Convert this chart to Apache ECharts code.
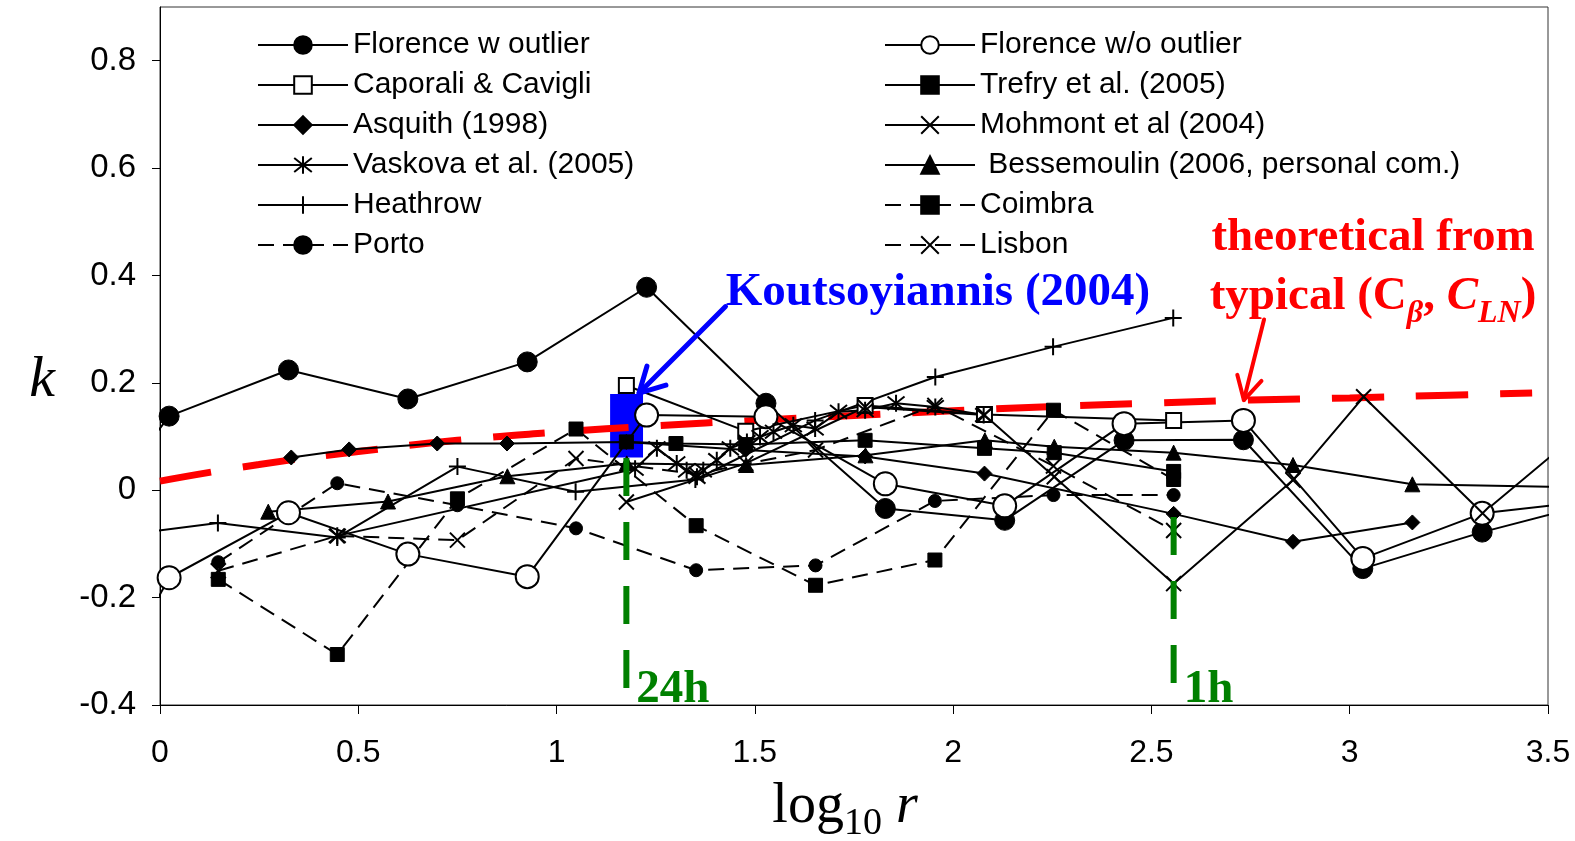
<!DOCTYPE html>
<html>
<head>
<meta charset="utf-8">
<script src="https://cdn.jsdelivr.net/npm/echarts@6/dist/echarts.min.js"></script>
<style>
html, body { margin: 0; padding: 0; background: #fff; }
#chart { width: 1575px; height: 841px; }
</style>
</head>
<body>
<div id="chart"></div>
<script>
// k versus log10 r for the stations / studies

const florenceX = [-0.278, 0.023, 0.324, 0.625, 0.926, 1.227, 1.528, 1.829, 2.13, 2.431, 2.732, 3.033, 3.334, 3.635];
const florenceWith = [-0.16, 0.138, 0.224, 0.170, 0.239, 0.378, 0.162, -0.034, -0.056, 0.093, 0.094, -0.146, -0.078, -0.02];
const florenceWithout = [-0.57, -0.163, -0.042, -0.119, -0.161, 0.140, 0.137, 0.012, -0.029, 0.124, 0.130, -0.127, -0.043, -0.018];

const caporaliX = [1.176, 1.477, 1.778, 2.079, 2.556];
const caporaliK = [0.195, 0.11, 0.158, 0.141, 0.13];

const trefryX = [1.176, 1.301, 1.477, 1.778, 2.079, 2.255, 2.556];
const trefryK = [0.09, 0.087, 0.085, 0.093, 0.078, 0.07, 0.035];

const asquithX = [0.331, 0.477, 0.699, 0.875, 1.176, 1.477, 1.778, 2.079, 2.556, 2.857, 3.158];
const asquithK = [0.061, 0.076, 0.087, 0.087, 0.09, 0.075, 0.063, 0.031, -0.044, -0.096, -0.06];

const mohmontX = [1.176, 1.477, 1.778, 2.079, 2.255, 2.556, 2.857, 3.035, 3.335, 3.636];
const mohmontK = [-0.022, 0.05, 0.155, 0.14, 0.025, -0.174, 0.019, 0.174, -0.043, 0.143];

const vaskovaX = [0.447, 1.198, 1.253, 1.303, 1.328, 1.354, 1.370, 1.404, 1.438, 1.480, 1.513, 1.547, 1.597, 1.652, 1.711, 1.778, 1.856, 1.955, 2.077];
const vaskovaK = [-0.085, 0.040, 0.078, 0.050, 0.037, 0.025, 0.037, 0.056, 0.078, 0.090, 0.099, 0.109, 0.121, 0.115, 0.146, 0.149, 0.162, 0.155, 0.140];

const bessemoulinX = [0.273, 0.575, 0.876, 1.177, 1.478, 1.779, 2.08, 2.255, 2.556, 2.857, 3.158, 3.6];
const bessemoulinK = [-0.04, -0.021, 0.026, 0.05, 0.047, 0.065, 0.093, 0.081, 0.07, 0.047, 0.011, 0.005];

const heathrowX = [-0.155, 0.146, 0.447, 0.75, 1.048, 1.35, 1.652, 1.955, 2.252, 2.555];
const heathrowK = [-0.089, -0.061, -0.088, 0.044, -0.003, 0.02, 0.13, 0.211, 0.267, 0.321];

const portugalX = [0.147, 0.447, 0.75, 1.049, 1.352, 1.653, 1.954, 2.253, 2.556];
const coimbraK = [-0.166, -0.306, -0.016, 0.114, -0.066, -0.177, -0.13, 0.149, 0.02];
const portoK = [-0.134, 0.013, -0.028, -0.071, -0.149, -0.14, -0.02, -0.009, -0.009];
const lisbonK = [-0.15, -0.085, -0.093, 0.059, 0.03, 0.075, 0.158, 0.045, -0.075];

// theoretical curve from typical (C_beta, C_LN)
const theoryX = [0, 0.25, 0.5, 0.75, 1, 1.25, 1.5, 1.75, 2, 2.25, 2.5, 2.75, 3, 3.25, 3.46];
const theoryK = [0.017, 0.048, 0.072, 0.093, 0.108, 0.12, 0.13, 0.139, 0.148, 0.156, 0.162, 0.168, 0.172, 0.177, 0.181];

// Koutsoyiannis (2004) range at 24 h
const koutsX = [1.135, 1.218];
const koutsK = [0.061, 0.179];

// 24h and 1h markers
const hourX = [1.176, 2.556];
const hourTopK = [0.06, -0.05];
const hourLabels = ['24h', '1h'];

const xTicks = [0, 3.5, 0.5];
const yTicks = [-0.4, 0.9, 0.2];
const yTickValues = [-0.4, -0.2, 0, 0.2, 0.4, 0.6, 0.8];

const leftNames = ['Florence w outlier', 'Caporali & Cavigli', 'Asquith (1998)', 'Vaskova et al. (2005)', 'Heathrow', 'Porto'];
const rightNames = ['Florence w/o outlier', 'Trefry et al. (2005)', 'Mohmont et al (2004)', ' Bessemoulin (2006, personal com.)', 'Coimbra', 'Lisbon'];

const SYM_X = 'path://M0,0L10,10M10,0L0,10';
const SYM_PLUS = 'path://M5,0L5,10M0,5L10,5';
const SYM_STAR = 'path://M5,0L5,10M1,1L9,9M9,1L1,9';

function pts(xs, ys) {
    return xs.map((x, i) => [x, ys[i]]);
}

function blackSeries(name, xs, ys, symbol, size, dashed, bw) {
    return {
        name: name,
        type: 'line',
        data: pts(xs, ys),
        symbol: symbol,
        symbolSize: size,
        showAllSymbol: true,
        clip: true,
        lineStyle: { color: '#000', width: 2, type: dashed ? [16, 9] : 'solid' },
        itemStyle: { color: '#000', borderColor: '#000', borderWidth: bw === undefined ? 1 : bw },
        emphasis: { disabled: true },
        z: 2
    };
}

const chart = echarts.init(document.getElementById('chart'));

const series = [
    {
        name: 'theory',
        type: 'line',
        data: pts(theoryX, theoryK),
        smooth: true,
        symbol: 'none',
        lineStyle: { color: '#ff0000', width: 7, type: [52, 32] },
        z: 1
    },
    blackSeries('Florence w outlier', florenceX, florenceWith, 'circle', 20, false, 1),
    blackSeries('Florence w/o outlier', florenceX, florenceWithout, 'emptyCircle', 23, false, 2),
    blackSeries('Caporali & Cavigli', caporaliX, caporaliK, 'emptyRect', 15, false, 2),
    blackSeries('Trefry et al. (2005)', trefryX, trefryK, 'rect', 14, false, 1),
    blackSeries('Asquith (1998)', asquithX, asquithK, 'diamond', 15, false, 1),
    blackSeries('Mohmont et al (2004)', mohmontX, mohmontK, SYM_X, 15, false, 2),
    blackSeries('Vaskova et al. (2005)', vaskovaX, vaskovaK, SYM_STAR, 17, false, 2),
    blackSeries(' Bessemoulin (2006, personal com.)', bessemoulinX, bessemoulinK, 'triangle', 15, false, 1),
    blackSeries('Heathrow', heathrowX, heathrowK, SYM_PLUS, 17, false, 2),
    blackSeries('Coimbra', portugalX, coimbraK, 'rect', 14, true, 1),
    blackSeries('Porto', portugalX, portoK, 'circle', 13, true, 1),
    blackSeries('Lisbon', portugalX, lisbonK, SYM_X, 15, true, 2)
];

hourX.forEach((x, i) => {
    series.push({
        name: 'hour' + i,
        type: 'line',
        data: [[x, hourTopK[i]], [x, yTicks[0]]],
        symbol: 'none',
        lineStyle: { color: '#008000', width: 6, type: [38, 26] },
        z: 3
    });
});

series.push({
    name: 'kouts',
    type: 'line',
    data: [],
    symbol: 'none',
    markArea: {
        silent: true,
        itemStyle: { color: '#0000ff', opacity: 1 },
        data: [[{ coord: [koutsX[0], koutsK[1]] }, { coord: [koutsX[1], koutsK[0]] }]]
    },
    z: 5
});

const legendBase = {
    orient: 'vertical',
    top: 25,
    itemWidth: 90,
    itemHeight: 22,
    itemGap: 10,
    selectedMode: false,
    textStyle: { fontSize: 30, lineHeight: 30, fontFamily: 'Liberation Sans', color: '#000' }
};

chart.setOption({
    animation: false,
    backgroundColor: '#fff',
    grid: { left: 160, right: 27, top: 7, bottom: 136, show: true, borderColor: '#333', borderWidth: 1 },
    legend: [
        Object.assign({ data: leftNames, left: 252 }, legendBase),
        Object.assign({ data: rightNames, left: 879 }, legendBase)
    ],
    xAxis: {
        type: 'value',
        min: xTicks[0],
        max: xTicks[1],
        interval: xTicks[2],
        splitLine: { show: false },
        axisLine: { onZero: false, lineStyle: { color: '#000', width: 1 } },
        axisTick: { length: 9, lineStyle: { color: '#000' } },
        axisLabel: { color: '#000', fontSize: 32, fontFamily: 'Liberation Sans', margin: 32 }
    },
    yAxis: {
        type: 'value',
        min: yTicks[0],
        max: yTicks[1],
        interval: yTicks[2],
        splitLine: { show: false },
        axisLine: { show: true, onZero: false, lineStyle: { color: '#000', width: 1 } },
        axisTick: { show: true, length: 8, customValues: yTickValues, lineStyle: { color: '#000' } },
        axisLabel: {
            color: '#000', fontSize: 33, fontFamily: 'Liberation Sans', margin: 24,
            customValues: yTickValues,
            formatter: v => (v > 0.85 ? '' : String(+v.toFixed(1)))
        }
    },
    series: series
});

// ---- annotations (text + arrows) ----
const mctx = document.createElement('canvas').getContext('2d');

function textRun(x, y, parts, align) {
    const widths = parts.map(p => { mctx.font = p.font; return mctx.measureText(p.text).width; });
    const total = widths.reduce((a, b) => a + b, 0);
    let cx = align === 'center' ? x - total / 2 : (align === 'right' ? x - total : x);
    return parts.map((p, i) => {
        const el = {
            type: 'text',
            x: cx,
            y: y + (p.dy || 0),
            z: 10,
            style: {
                text: p.text, font: p.font, fill: p.fill, align: 'left', verticalAlign: 'bottom',
                textShadowColor: p.shadow || 'transparent', textShadowOffsetX: 2, textShadowOffsetY: 2
            }
        };
        cx += widths[i];
        return el;
    });
}

function arrow(from, to, color, width, headLen) {
    const p0 = chart.convertToPixel({ xAxisIndex: 0, yAxisIndex: 0 }, from);
    const p1 = chart.convertToPixel({ xAxisIndex: 0, yAxisIndex: 0 }, to);
    const ang = Math.atan2(p0[1] - p1[1], p0[0] - p1[0]);
    const a1 = ang + 0.5, a2 = ang - 0.5;
    const h1 = [p1[0] + headLen * Math.cos(a1), p1[1] + headLen * Math.sin(a1)];
    const h2 = [p1[0] + headLen * Math.cos(a2), p1[1] + headLen * Math.sin(a2)];
    const st = { stroke: color, lineWidth: width, fill: null, lineCap: 'round', lineJoin: 'round' };
    return [
        { type: 'polyline', z: 10, shape: { points: [p0, p1] }, style: st },
        { type: 'polyline', z: 10, shape: { points: [h1, p1, h2] }, style: st }
    ];
}

const SERIF = '"Liberation Serif", "Times New Roman", serif';
const shadow = '#b0b0b0';
const blueFont = 'bold 47px ' + SERIF;
const redFont = 'bold 47px ' + SERIF;
const redIt = 'italic bold 47px ' + SERIF;
const redSub = 'italic bold 32px ' + SERIF;

let graphics = [];
graphics = graphics.concat(textRun(938, 316, [{ text: 'Koutsoyiannis (2004)', font: blueFont, fill: '#0000ff', shadow: shadow }], 'center'));
graphics = graphics.concat(textRun(1373, 261, [{ text: 'theoretical from', font: redFont, fill: '#ff0000', shadow: shadow }], 'center'));
graphics = graphics.concat(textRun(1373, 320, [
    { text: 'typical (C', font: redFont, fill: '#ff0000', shadow: shadow },
    { text: '\u03B2', font: redSub, fill: '#ff0000', shadow: shadow, dy: 10 },
    { text: ', ', font: redFont, fill: '#ff0000', shadow: shadow },
    { text: 'C', font: redIt, fill: '#ff0000', shadow: shadow },
    { text: 'LN', font: redSub, fill: '#ff0000', shadow: shadow, dy: 10 },
    { text: ')', font: redFont, fill: '#ff0000', shadow: shadow }
], 'center'));

hourLabels.forEach((lab, i) => {
    const p = chart.convertToPixel({ xAxisIndex: 0, yAxisIndex: 0 }, [hourX[i], yTicks[0]]);
    graphics = graphics.concat(textRun(p[0] + 10, 713, [{ text: lab, font: 'bold 47px ' + SERIF, fill: '#008000', shadow: shadow }], 'left'));
});

// axis titles
graphics = graphics.concat(textRun(845, 835, [
    { text: 'log', font: '56px ' + SERIF, fill: '#000' },
    { text: '10', font: '38px ' + SERIF, fill: '#000', dy: 8 },
    { text: ' r', font: 'italic 56px ' + SERIF, fill: '#000' }
], 'center'));
graphics.push({
    type: 'text', x: 42, y: 381, z: 10,
    style: { text: 'k', font: 'italic 58px ' + SERIF, fill: '#000', align: 'center', verticalAlign: 'middle' }
});

graphics = graphics.concat(arrow([1.426, 0.342], [1.208, 0.181], '#0000ff', 5, 28));
graphics = graphics.concat(arrow([2.784, 0.318], [2.733, 0.168], '#ff0000', 4, 26));

chart.setOption({ graphic: graphics });
</script>
</body>
</html>
